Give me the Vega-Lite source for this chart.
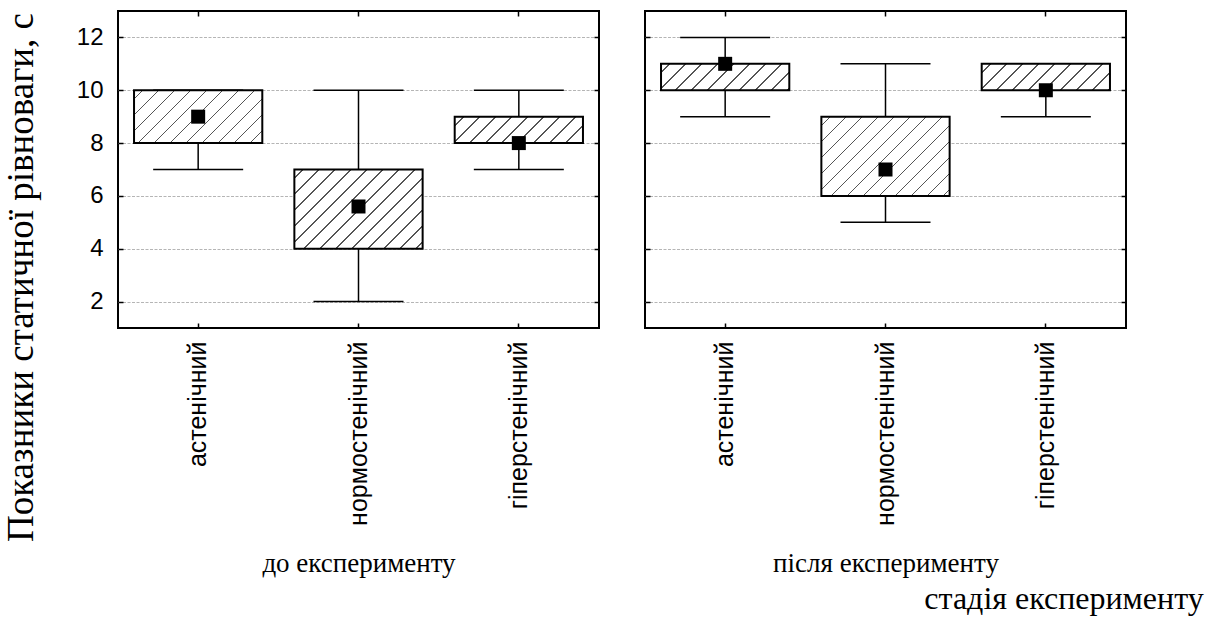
{
  "$schema": "https://vega.github.io/schema/vega-lite/v6.json",
  "autosize": {"type": "none"},
  "padding": {"left": 118, "top": 11, "right": 1088, "bottom": 606},
  "background": "white",
  "bounds": "flush",
  "spacing": 46,
  "params": [
    {
      "name": "hatchStops",
      "value": [
        {"offset": 0, "color": "#fff"},
        {"offset": 0.0357, "color": "#fff"}, {"offset": 0.0357, "color": "#555"}, {"offset": 0.0432, "color": "#555"}, {"offset": 0.0432, "color": "#fff"},
        {"offset": 0.1071, "color": "#fff"}, {"offset": 0.1071, "color": "#555"}, {"offset": 0.1146, "color": "#555"}, {"offset": 0.1146, "color": "#fff"},
        {"offset": 0.1786, "color": "#fff"}, {"offset": 0.1786, "color": "#555"}, {"offset": 0.1861, "color": "#555"}, {"offset": 0.1861, "color": "#fff"},
        {"offset": 0.25, "color": "#fff"}, {"offset": 0.25, "color": "#555"}, {"offset": 0.2575, "color": "#555"}, {"offset": 0.2575, "color": "#fff"},
        {"offset": 0.3214, "color": "#fff"}, {"offset": 0.3214, "color": "#555"}, {"offset": 0.3289, "color": "#555"}, {"offset": 0.3289, "color": "#fff"},
        {"offset": 0.3929, "color": "#fff"}, {"offset": 0.3929, "color": "#555"}, {"offset": 0.4004, "color": "#555"}, {"offset": 0.4004, "color": "#fff"},
        {"offset": 0.4643, "color": "#fff"}, {"offset": 0.4643, "color": "#555"}, {"offset": 0.4718, "color": "#555"}, {"offset": 0.4718, "color": "#fff"},
        {"offset": 0.5357, "color": "#fff"}, {"offset": 0.5357, "color": "#555"}, {"offset": 0.5432, "color": "#555"}, {"offset": 0.5432, "color": "#fff"},
        {"offset": 0.6071, "color": "#fff"}, {"offset": 0.6071, "color": "#555"}, {"offset": 0.6146, "color": "#555"}, {"offset": 0.6146, "color": "#fff"},
        {"offset": 0.6786, "color": "#fff"}, {"offset": 0.6786, "color": "#555"}, {"offset": 0.6861, "color": "#555"}, {"offset": 0.6861, "color": "#fff"},
        {"offset": 0.75, "color": "#fff"}, {"offset": 0.75, "color": "#555"}, {"offset": 0.7575, "color": "#555"}, {"offset": 0.7575, "color": "#fff"},
        {"offset": 0.8214, "color": "#fff"}, {"offset": 0.8214, "color": "#555"}, {"offset": 0.8289, "color": "#555"}, {"offset": 0.8289, "color": "#fff"},
        {"offset": 0.8929, "color": "#fff"}, {"offset": 0.8929, "color": "#555"}, {"offset": 0.9004, "color": "#555"}, {"offset": 0.9004, "color": "#fff"},
        {"offset": 0.9643, "color": "#fff"}, {"offset": 0.9643, "color": "#555"}, {"offset": 0.9718, "color": "#555"}, {"offset": 0.9718, "color": "#fff"},
        {"offset": 1, "color": "#fff"}
      ]
    },
    {
      "name": "hatches",
      "expr": "[{gradient: 'linear', x1: 0, y1: 0, x2: 1.6753, y2: 0.345, stops: hatchStops}, {gradient: 'linear', x1: 0, y1: 0, x2: 1.493, y2: 0.615, stops: hatchStops}, {gradient: 'linear', x1: 0, y1: 0, x2: 1.2639, y2: 0.7809, stops: hatchStops}]"
    }
  ],
  "title": {
    "text": "стадія експерименту",
    "orient": "bottom",
    "anchor": "end",
    "font": "Liberation Serif",
    "fontSize": 32,
    "fontWeight": "normal",
    "color": "black",
    "baseline": "alphabetic",
    "dx": 76,
    "offset": 32
  },
  "datasets": {
    "boxes": [
      {"stage": "до експерименту", "type": "астенічний", "min": 7, "q1": 8, "median": 9, "q3": 10, "max": 10},
      {"stage": "до експерименту", "type": "нормостенічний", "min": 2, "q1": 4, "median": 5.6, "q3": 7, "max": 10},
      {"stage": "до експерименту", "type": "гіперстенічний", "min": 7, "q1": 8, "median": 8, "q3": 9, "max": 10},
      {"stage": "після експерименту", "type": "астенічний", "min": 9, "q1": 10, "median": 11, "q3": 11, "max": 12},
      {"stage": "після експерименту", "type": "нормостенічний", "min": 5, "q1": 6, "median": 7, "q3": 9, "max": 11},
      {"stage": "після експерименту", "type": "гіперстенічний", "min": 9, "q1": 10, "median": 10, "q3": 11, "max": 11}
    ]
  },
  "config": {
    "view": {"stroke": "black", "strokeWidth": 2},
    "axis": {
      "labelFont": "Liberation Sans",
      "labelFontSize": 24,
      "labelColor": "black",
      "labelLimit": 0,
      "titleFont": "Liberation Serif",
      "titleFontSize": 27,
      "titleFontWeight": "normal",
      "titleColor": "black",
      "titleLimit": 0,
      "domain": false,
      "grid": false,
      "tickColor": "black",
      "tickWidth": 1.5,
      "tickSize": -5,
      "gridColor": "#b5b5b5",
      "gridDash": [3, 1.5],
      "gridWidth": 1
    }
  },
  "hconcat": [
    {
      "width": 481,
      "height": 317,
      "data": {"name": "boxes"},
      "transform": [{"filter": "datum.stage === 'до експерименту'"}],
      "resolve": {"axis": {"x": "independent", "y": "independent"}},
      "layer": [
        {
          "mark": {"type": "rule", "color": "black", "strokeWidth": 1.5},
          "encoding": {
            "x": {
              "field": "type", "type": "nominal",
              "scale": {"domain": ["астенічний", "нормостенічний", "гіперстенічний"], "paddingInner": 0, "paddingOuter": 0},
              "axis": {"orient": "bottom", "title": "до експерименту", "labelAngle": -90, "labelFontSize": 25, "labelLimit": 0, "labelPadding": 18, "titleX": 240.5, "titleY": 243, "titleBaseline": "alphabetic", "titleAlign": "center"}
            },
            "y": {
              "field": "min", "type": "quantitative",
              "scale": {"domain": [1, 13], "nice": false, "zero": false},
              "axis": {"orient": "left", "values": [2, 4, 6, 8, 10, 12], "grid": true, "labelPadding": 20, "title": "Показники статичної рівноваги, с", "titleFontSize": 37, "titleX": -86, "titleY": 266, "titleAngle": 270, "titleBaseline": "alphabetic", "titleAlign": "center"}
            },
            "y2": {"field": "max"}
          }
        },
        {
          "transform": [{"fold": ["min", "max"], "as": ["end", "value"]}],
          "mark": {"type": "tick", "color": "black", "size": 90, "thickness": 1.5, "opacity": 1},
          "encoding": {
            "x": {"field": "type", "type": "nominal", "scale": {"domain": ["астенічний", "нормостенічний", "гіперстенічний"], "paddingInner": 0, "paddingOuter": 0}, "axis": null},
            "y": {"field": "value", "type": "quantitative", "scale": {"domain": [1, 13], "nice": false, "zero": false}, "axis": null}
          }
        },
        {
          "mark": {"type": "bar", "width": {"band": 0.8}, "fill": {"expr": "hatches[datum.q3 - datum.q1 - 1]"}, "stroke": "black", "strokeWidth": 2},
          "encoding": {
            "x": {"field": "type", "type": "nominal", "scale": {"domain": ["астенічний", "нормостенічний", "гіперстенічний"], "paddingInner": 0, "paddingOuter": 0}, "axis": null},
            "y": {"field": "q1", "type": "quantitative", "scale": {"domain": [1, 13], "nice": false, "zero": false}, "axis": null},
            "y2": {"field": "q3"}
          }
        },
        {
          "mark": {"type": "square", "size": 196, "color": "black", "opacity": 1},
          "encoding": {
            "x": {"field": "type", "type": "nominal", "scale": {"domain": ["астенічний", "нормостенічний", "гіперстенічний"], "paddingInner": 0, "paddingOuter": 0}, "axis": {"orient": "top", "labels": false, "title": null}},
            "y": {"field": "median", "type": "quantitative", "scale": {"domain": [1, 13], "nice": false, "zero": false}, "axis": {"orient": "right", "labels": false, "title": null, "values": [2, 4, 6, 8, 10, 12]}}
          }
        }
      ]
    },
    {
      "width": 481,
      "height": 317,
      "data": {"name": "boxes"},
      "transform": [{"filter": "datum.stage === 'після експерименту'"}],
      "resolve": {"axis": {"x": "independent", "y": "independent"}},
      "layer": [
        {
          "mark": {"type": "rule", "color": "black", "strokeWidth": 1.5},
          "encoding": {
            "x": {
              "field": "type", "type": "nominal",
              "scale": {"domain": ["астенічний", "нормостенічний", "гіперстенічний"], "paddingInner": 0, "paddingOuter": 0},
              "axis": {"orient": "bottom", "title": "після експерименту", "labelAngle": -90, "labelFontSize": 25, "labelLimit": 0, "labelPadding": 18, "titleX": 240.5, "titleY": 243, "titleBaseline": "alphabetic", "titleAlign": "center"}
            },
            "y": {
              "field": "min", "type": "quantitative",
              "scale": {"domain": [1, 13], "nice": false, "zero": false},
              "axis": {"orient": "left", "values": [2, 4, 6, 8, 10, 12], "grid": true, "labels": false, "title": null}
            },
            "y2": {"field": "max"}
          }
        },
        {
          "transform": [{"fold": ["min", "max"], "as": ["end", "value"]}],
          "mark": {"type": "tick", "color": "black", "size": 90, "thickness": 1.5, "opacity": 1},
          "encoding": {
            "x": {"field": "type", "type": "nominal", "scale": {"domain": ["астенічний", "нормостенічний", "гіперстенічний"], "paddingInner": 0, "paddingOuter": 0}, "axis": null},
            "y": {"field": "value", "type": "quantitative", "scale": {"domain": [1, 13], "nice": false, "zero": false}, "axis": null}
          }
        },
        {
          "mark": {"type": "bar", "width": {"band": 0.8}, "fill": {"expr": "hatches[datum.q3 - datum.q1 - 1]"}, "stroke": "black", "strokeWidth": 2},
          "encoding": {
            "x": {"field": "type", "type": "nominal", "scale": {"domain": ["астенічний", "нормостенічний", "гіперстенічний"], "paddingInner": 0, "paddingOuter": 0}, "axis": null},
            "y": {"field": "q1", "type": "quantitative", "scale": {"domain": [1, 13], "nice": false, "zero": false}, "axis": null},
            "y2": {"field": "q3"}
          }
        },
        {
          "mark": {"type": "square", "size": 196, "color": "black", "opacity": 1},
          "encoding": {
            "x": {"field": "type", "type": "nominal", "scale": {"domain": ["астенічний", "нормостенічний", "гіперстенічний"], "paddingInner": 0, "paddingOuter": 0}, "axis": {"orient": "top", "labels": false, "title": null}},
            "y": {"field": "median", "type": "quantitative", "scale": {"domain": [1, 13], "nice": false, "zero": false}, "axis": {"orient": "right", "labels": false, "title": null, "values": [2, 4, 6, 8, 10, 12]}}
          }
        }
      ]
    }
  ]
}
